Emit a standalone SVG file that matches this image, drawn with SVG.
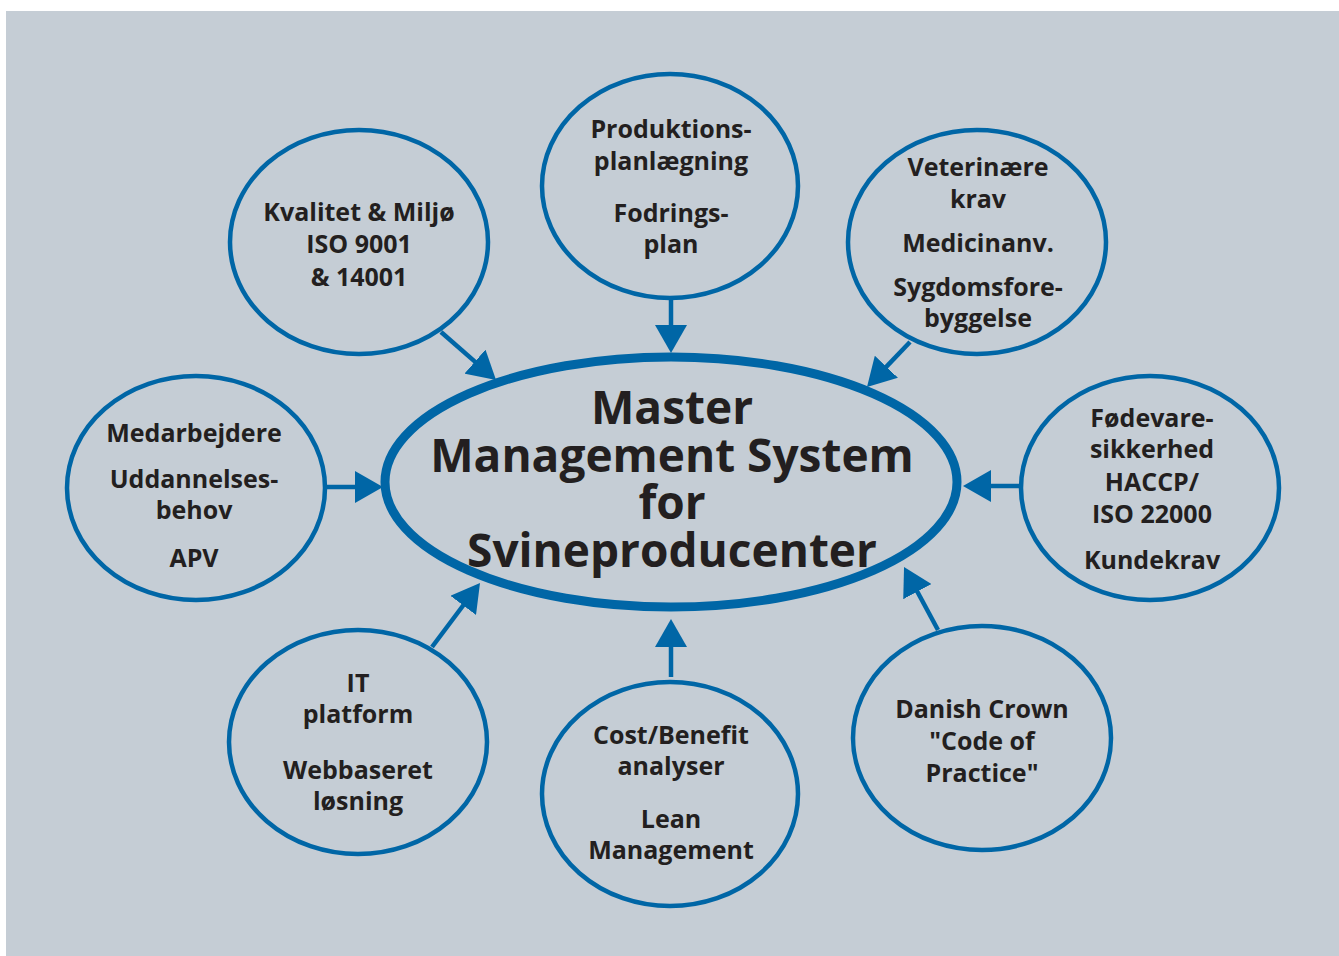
<svg xmlns="http://www.w3.org/2000/svg" width="1339" height="956" viewBox="0 0 1339 956">
<defs>
<style>
.bg{fill:#c5cdd5}
.node{fill:none;stroke:#0066a6;stroke-width:4.5}
.hub{fill:none;stroke:#0066a6;stroke-width:9}
.con{stroke:#0066a6;stroke-width:4.5;fill:none}
.t{font-family:"Open Sans","Liberation Sans",sans-serif;font-weight:700;font-size:25px;fill:#231f20;text-anchor:middle}
.big{font-family:"Open Sans","Liberation Sans",sans-serif;font-weight:700;font-size:46px;fill:#231f20;text-anchor:middle}
</style>
<marker id="ah" markerUnits="userSpaceOnUse" viewBox="0 0 28 32" markerWidth="28" markerHeight="32" refX="3" refY="16" orient="auto">
<path d="M0,0 L28,16 L0,32 z" fill="#0066a6"/>
</marker>
</defs>
<rect x="0" y="0" width="1339" height="956" fill="#ffffff"/>
<rect class="bg" x="6" y="11" width="1333" height="945"/>
<g id="connectors">
<line class="con" x1="441" y1="332" x2="477.2" y2="363.6" marker-end="url(#ah)"/>
<line class="con" x1="671" y1="300" x2="671" y2="328" marker-end="url(#ah)"/>
<line class="con" x1="910" y1="342" x2="884.3" y2="368.9" marker-end="url(#ah)"/>
<line class="con" x1="327" y1="487" x2="358" y2="487" marker-end="url(#ah)"/>
<line class="con" x1="1019" y1="486" x2="988" y2="486" marker-end="url(#ah)"/>
<line class="con" x1="432" y1="647" x2="465" y2="603" marker-end="url(#ah)"/>
<line class="con" x1="671" y1="677" x2="671" y2="644" marker-end="url(#ah)"/>
<line class="con" x1="938" y1="630" x2="915.9" y2="589" marker-end="url(#ah)"/>
</g>
<g id="hub">
<ellipse class="hub" cx="671" cy="482" rx="286" ry="125"/>
<text class="big" x="672" y="424">Master</text>
<text class="big" x="672" y="472">Management System</text>
<text class="big" x="672" y="519">for</text>
<text class="big" x="672" y="567">Svineproducenter</text>
</g>
<g id="kvalitet">
<ellipse class="node" cx="359" cy="242" rx="129" ry="112"/>
<text class="t" x="359" y="221">Kvalitet &amp; Miljø</text>
<text class="t" x="359" y="253">ISO 9001</text>
<text class="t" x="359" y="286">&amp; 14001</text>
</g>
<g id="produktion">
<ellipse class="node" cx="670" cy="186" rx="128" ry="112"/>
<text class="t" x="671" y="138">Produktions-</text>
<text class="t" x="671" y="170">planlægning</text>
<text class="t" x="671" y="222">Fodrings-</text>
<text class="t" x="671" y="253">plan</text>
</g>
<g id="veterinaer">
<ellipse class="node" cx="977" cy="242" rx="129" ry="112"/>
<text class="t" x="978" y="176">Veterinære</text>
<text class="t" x="978" y="208">krav</text>
<text class="t" x="978" y="252">Medicinanv.</text>
<text class="t" x="978" y="296">Sygdomsfore-</text>
<text class="t" x="978" y="327">byggelse</text>
</g>
<g id="medarbejdere">
<ellipse class="node" cx="196" cy="488" rx="129" ry="112"/>
<text class="t" x="194" y="442">Medarbejdere</text>
<text class="t" x="194" y="488">Uddannelses-</text>
<text class="t" x="194" y="519">behov</text>
<text class="t" x="194" y="567">APV</text>
</g>
<g id="foedevare">
<ellipse class="node" cx="1150" cy="488" rx="129" ry="112"/>
<text class="t" x="1152" y="427">Fødevare-</text>
<text class="t" x="1152" y="458">sikkerhed</text>
<text class="t" x="1152" y="491">HACCP/</text>
<text class="t" x="1152" y="523">ISO 22000</text>
<text class="t" x="1152" y="569">Kundekrav</text>
</g>
<g id="it">
<ellipse class="node" cx="358" cy="742" rx="129" ry="112"/>
<text class="t" x="358" y="692">IT</text>
<text class="t" x="358" y="723">platform</text>
<text class="t" x="358" y="779">Webbaseret</text>
<text class="t" x="358" y="810">løsning</text>
</g>
<g id="costbenefit">
<ellipse class="node" cx="670" cy="794" rx="128" ry="112"/>
<text class="t" x="671" y="744">Cost/Benefit</text>
<text class="t" x="671" y="775">analyser</text>
<text class="t" x="671" y="828">Lean</text>
<text class="t" x="671" y="859">Management</text>
</g>
<g id="danishcrown">
<ellipse class="node" cx="982" cy="738" rx="129" ry="112"/>
<text class="t" x="982" y="718">Danish Crown</text>
<text class="t" x="982" y="750">"Code of</text>
<text class="t" x="982" y="782">Practice"</text>
</g>
</svg>
